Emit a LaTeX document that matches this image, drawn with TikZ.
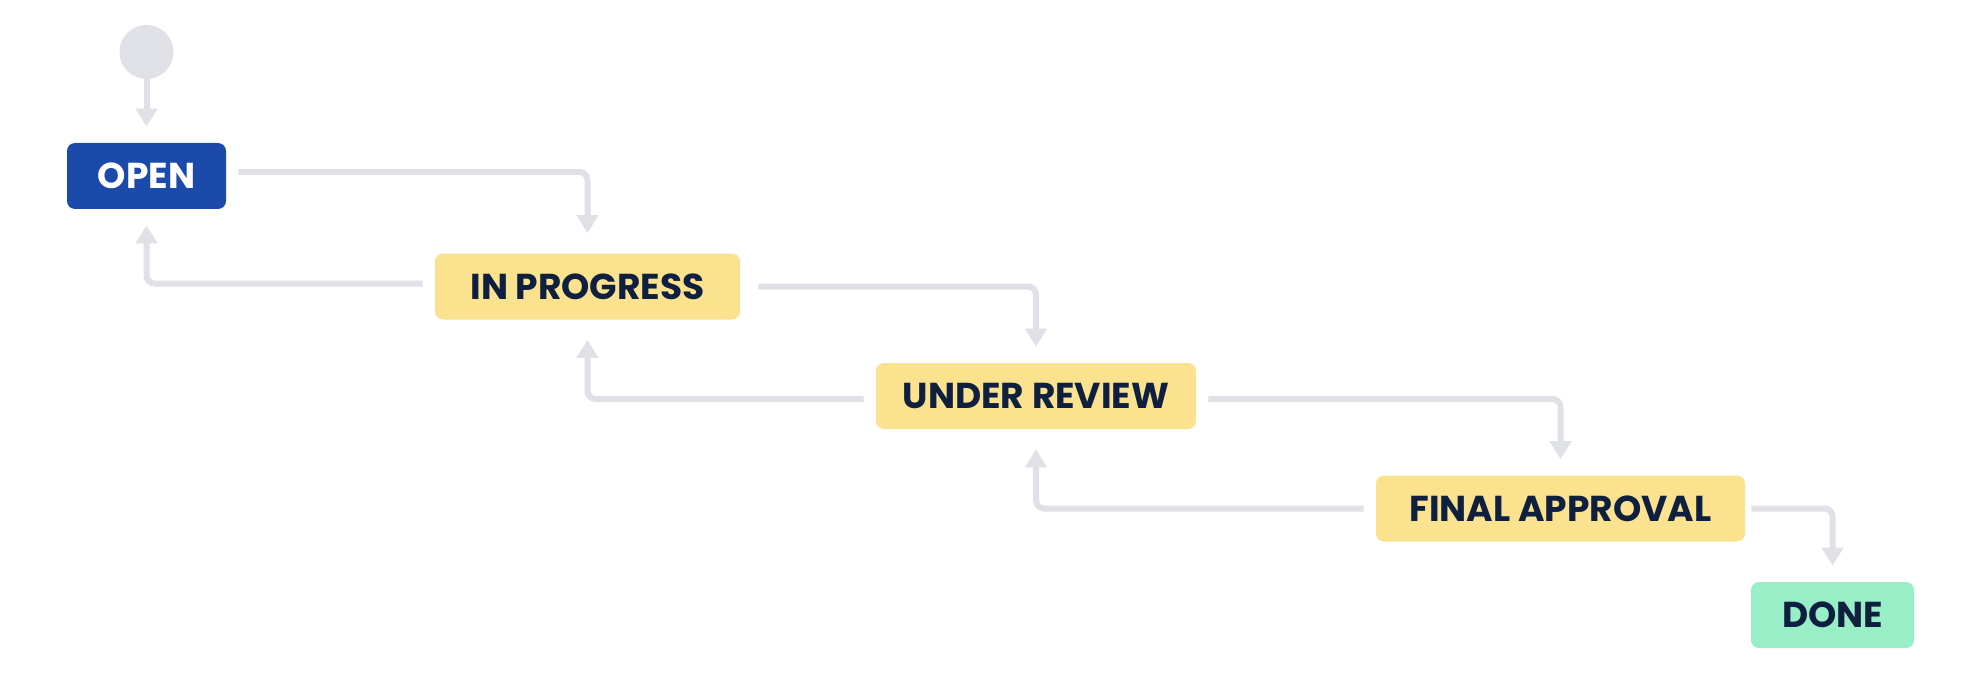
\documentclass[tikz,border=0pt]{standalone}
\usepackage{fontspec}
\setmainfont{Poppins}
\usetikzlibrary{arrows.meta}
\definecolor{openblue}{HTML}{1C4AAA}
\definecolor{stateyellow}{HTML}{FAE28F}
\definecolor{donegreen}{HTML}{98EEC6}
\definecolor{linegray}{HTML}{DFE1E6}
\definecolor{labelnavy}{HTML}{0F1F3F}

\begin{document}
\begin{tikzpicture}[x=0.5pt,y=-0.5pt,
  status/.style={rectangle,rounded corners=4pt,minimum height=33pt,inner sep=0pt,font=\bfseries\fontsize{18}{20}\selectfont,text=labelnavy},
  flow/.style={draw=linegray,line width=3pt,rounded corners=4pt,-{Triangle[width=10.5pt,length=9pt]},shorten <=6pt,shorten >=8pt}]
\useasboundingbox[fill=white] (0,0) rectangle (1984,684);
% states
\node[circle,fill=linegray,minimum size=27pt,inner sep=0pt] (start) at (146.5,52) {};
\node[status,fill=openblue,text=white,minimum width=79.5pt] (open) at (146.5,176) {OPEN};
\node[status,fill=stateyellow,minimum width=152.5pt] (prog) at (587.5,286.5) {IN PROGRESS};
\node[status,fill=stateyellow,minimum width=160pt] (review) at (1036,396) {UNDER REVIEW};
\node[status,fill=stateyellow,minimum width=184.5pt] (final) at (1560.5,508.5) {FINAL APPROVAL};
\node[status,fill=donegreen,minimum width=81.5pt] (done) at (1832.5,615) {DONE};
% transitions forward
\draw[flow,shorten <=0pt] (start) -- (open);
\draw[flow,shorten >=10pt] ([yshift=2pt]open.east) -| (prog);
\draw[flow,shorten <=9pt] (prog) -| (review);
\draw[flow] ([yshift=-1.5pt]review.east) -| (final);
\draw[flow,shorten <=3pt] (final) -| (done);
% transitions back
\draw[flow] ([yshift=1.5pt]prog.west) -| (open);
\draw[flow,shorten >=10pt] ([yshift=-1.5pt]review.west) -| (prog);
\draw[flow,shorten >=10pt] (final) -| (review);
\end{tikzpicture}
\end{document}
